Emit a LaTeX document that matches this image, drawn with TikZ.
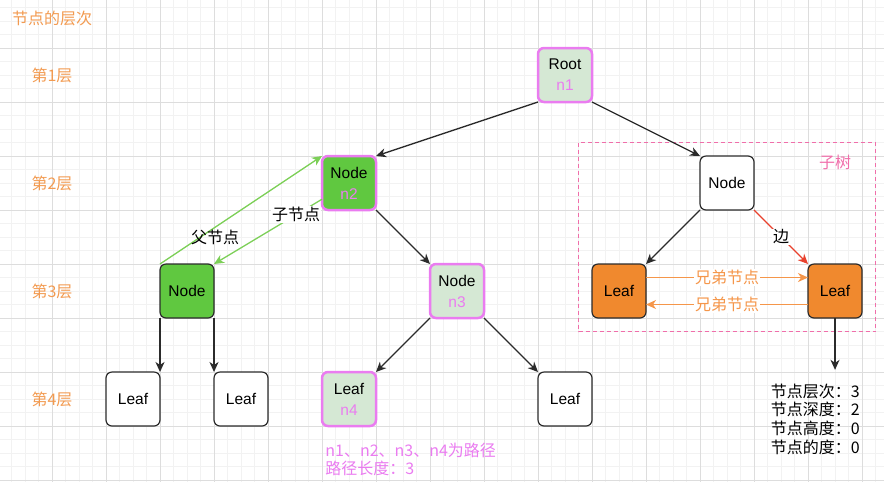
\documentclass[tikz,border=0pt]{standalone}
\usepackage{fontspec}
\setmainfont{Liberation Sans}
\newfontfamily\cjk{Noto Sans CJK SC}
\usetikzlibrary{arrows.meta, calc}
\definecolor{gridminor}{HTML}{F2F2F2}
\definecolor{gridmajor}{HTML}{DDDDDD}
\definecolor{nodeedge}{HTML}{2B2B2B}
\definecolor{pathpink}{HTML}{EA7CF0}
\definecolor{pathfill}{HTML}{D5E8D4}
\definecolor{greenfill}{HTML}{60C840}
\definecolor{greenline}{HTML}{7CCF57}
\definecolor{orangefill}{HTML}{F0892E}
\definecolor{orangeline}{HTML}{F5964A}
\definecolor{layertext}{HTML}{F29A50}
\definecolor{subpink}{HTML}{F06EAA}
\definecolor{edgered}{HTML}{E8412D}

\begin{document}
\begin{tikzpicture}[
    x=54pt, y=-54pt, >={Stealth[length=10pt, width=9pt, inset=3pt]},
    treenode/.style={draw=nodeedge, line width=1.2pt, rounded corners=6pt, fill=white, minimum size=54pt, inner sep=0pt, outer sep=0pt, align=center, font=\fontsize{15.5}{21}\selectfont},
    pathnode/.style={treenode, draw=pathpink, line width=2.5pt, fill=pathfill},
    cjktext/.style={inner sep=1pt, font=\cjk\fontsize{16}{19}\selectfont},
    layerlabel/.style={cjktext, text=layertext},
    edgeline/.style={->, draw=nodeedge, line width=1.3pt},
    greenarrow/.style={->, draw=greenline, line width=1.3pt},
    siblingarrow/.style={->, draw=orangeline, line width=1.4pt}
]
\useasboundingbox (-0.963,-0.889) rectangle (15.407,8.037);
\foreach \i in {-3,...,61} \draw[gridminor, line width=0.8pt] (\i/4,-0.889) -- (\i/4,8.037);
\foreach \j in {-3,...,32} \draw[gridminor, line width=0.8pt] (-0.963,\j/4) -- (15.407,\j/4);
\foreach \i in {0,...,15} \draw[gridmajor, line width=0.8pt] (\i,-0.889) -- (\i,8.037);
\foreach \j in {0,...,8} \draw[gridmajor, line width=0.8pt] (-0.963,\j) -- (15.407,\j);

\node (layer_title) [layerlabel] at (0,-0.54) {节点的层次};
\node (layer_1) [layerlabel] at (0,0.5) {第1层};
\node (layer_2) [layerlabel] at (0,2.5) {第2层};
\node (layer_3) [layerlabel] at (0,4.5) {第3层};
\node (layer_4) [layerlabel] at (0,6.5) {第4层};

\draw[subpink, line width=1.1pt, dash pattern=on 4pt off 3pt] (9.75,1.75) rectangle (15.25,5.25);
\node (sub_label) [cjktext, text=subpink] at (14.5,2.11) {子树};

\node (root_n1) [pathnode] at (9.5,0.5) {Root\\{\color{pathpink}n1}};
\node (node_n2) [pathnode, fill=greenfill] at (5.5,2.5) {Node\\{\color{pathpink}n2}};
\node (node_left) [treenode, fill=greenfill] at (2.5,4.5) {Node};
\node (leaf_left1) [treenode] at (1.5,6.5) {Leaf};
\node (leaf_left2) [treenode] at (3.5,6.5) {Leaf};
\node (node_n3) [pathnode] at (7.5,4.5) {Node\\{\color{pathpink}n3}};
\node (leaf_n4) [pathnode] at (5.5,6.5) {Leaf\\{\color{pathpink}n4}};
\node (leaf_mid) [treenode] at (9.5,6.5) {Leaf};
\node (node_sub) [treenode] at (12.5,2.5) {Node};
\node (leaf_sub_left) [treenode, fill=orangefill] at (10.5,4.5) {Leaf};
\node (leaf_sub_right) [treenode, fill=orangefill] at (14.5,4.5) {Leaf};
\coordinate (info_arrow) at (14.5,5.96);

\node (path_text) [cjktext, text=pathpink, anchor=west, align=left, font=\cjk\fontsize{16}{18}\selectfont] at (5.04,7.61) {n1、n2、n3、n4为路径\\路径长度：3};
\node (info_text) [cjktext, anchor=west, align=left, font=\cjk\fontsize{16}{18.7}\selectfont] at (13.29,6.87) {节点层次：3\\节点深度：2\\节点高度：0\\节点的度：0};

\draw[edgeline] (root_n1.south west) -- (node_n2.north east);
\draw[edgeline] (root_n1.south east) -- (node_sub.north west);
\draw[edgeline] (node_n2.south east) -- (node_n3.north west);
\draw[edgeline] (node_left.south west) -- (leaf_left1.north east);
\draw[edgeline] (node_left.south east) -- (leaf_left2.north west);
\draw[edgeline] (node_n3.south west) -- (leaf_n4.north east);
\draw[edgeline] (node_n3.south east) -- (leaf_mid.north west);
\draw[edgeline] (node_sub.south west) -- (leaf_sub_left.north east);
\draw[edgeline, draw=edgered] (node_sub.south east) -- node[cjktext, fill=white, text=black] {边} (leaf_sub_right.north west);
\draw[edgeline] (leaf_sub_right) -- (info_arrow);

\draw[greenarrow] (node_left.north west) -- (node_n2.north west);
\node (parent_label) [cjktext] at (3.02,3.5) {父节点};
\draw[greenarrow] ($(node_n2.south west)+(0,-0.2)$) -- node[cjktext, fill=white, pos=0.24] {子节点} (node_left.north east);

\draw[siblingarrow] ($(leaf_sub_left.east)+(0,-0.25)$) -- node[cjktext, fill=white, text=orangeline] {兄弟节点} ($(leaf_sub_right.west)+(0,-0.25)$);
\draw[siblingarrow] ($(leaf_sub_right.west)+(0,0.25)$) -- node[cjktext, fill=white, text=orangeline] {兄弟节点} ($(leaf_sub_left.east)+(0,0.25)$);
\end{tikzpicture}
\end{document}
